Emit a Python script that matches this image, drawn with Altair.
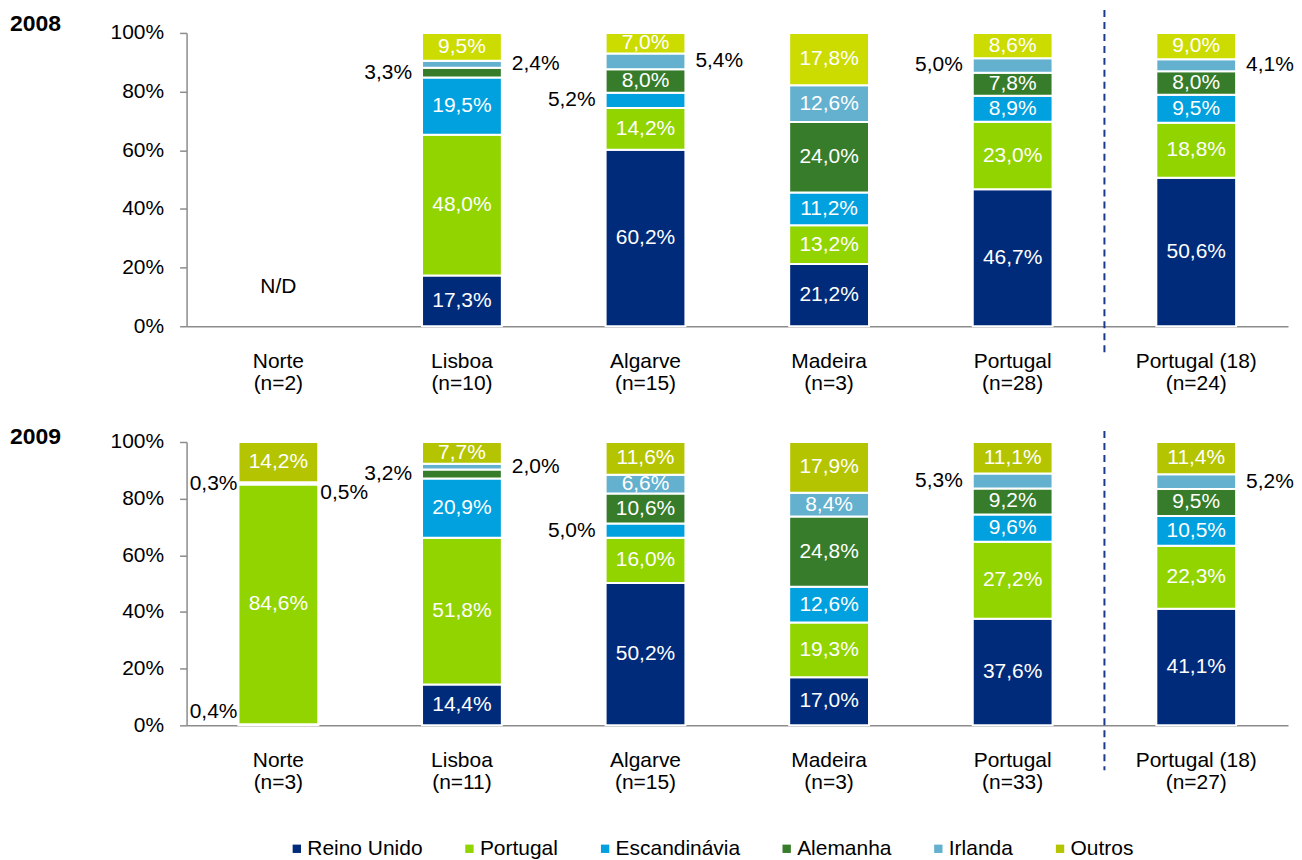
import altair as alt
import pandas as pd

FONT = "Liberation Sans"
FS = 21

regioes = ["Norte", "Lisboa", "Algarve", "Madeira", "Portugal", "Portugal (18)"]
n_2008 = [2, 10, 15, 3, 28, 24]
n_2009 = [3, 11, 15, 3, 33, 27]
series = ["Reino Unido", "Portugal", "Escandinávia", "Alemanha", "Irlanda", "Outros"]

# 2008 (None = N/D)
ru_2008 = [None, 17.3, 60.2, 21.2, 46.7, 50.6]
pt_2008 = [None, 48.0, 14.2, 13.2, 23.0, 18.8]
es_2008 = [None, 19.5, 5.2, 11.2, 8.9, 9.5]
al_2008 = [None, 3.3, 8.0, 24.0, 7.8, 8.0]
ir_2008 = [None, 2.4, 5.4, 12.6, 5.0, 4.1]
ou_2008 = [None, 9.5, 7.0, 17.8, 8.6, 9.0]

# 2009
ru_2009 = [0.4, 14.4, 50.2, 17.0, 37.6, 41.1]
pt_2009 = [84.6, 51.8, 16.0, 19.3, 27.2, 22.3]
es_2009 = [0.0, 20.9, 5.0, 12.6, 9.6, 10.5]
al_2009 = [0.3, 3.2, 10.6, 24.8, 9.2, 9.5]
ir_2009 = [0.5, 2.0, 6.6, 8.4, 5.3, 5.2]
ou_2009 = [14.2, 7.7, 11.6, 17.9, 11.1, 11.4]

# labels drawn outside the bar: (region, series) -> (side, nudge in % units)
fora_2008 = {
    ("Lisboa", "Alemanha"): ("left", 0), ("Lisboa", "Irlanda"): ("right", 0),
    ("Algarve", "Escandinávia"): ("left", 0), ("Algarve", "Irlanda"): ("right", 0),
    ("Portugal", "Irlanda"): ("left", 0), ("Portugal (18)", "Irlanda"): ("right", 0),
}
fora_2009 = {
    ("Norte", "Reino Unido"): ("leftc", 4.5), ("Norte", "Alemanha"): ("leftc", 0),
    ("Norte", "Irlanda"): ("rightc", -3.5),
    ("Lisboa", "Alemanha"): ("left", 0), ("Lisboa", "Irlanda"): ("right", 0),
    ("Algarve", "Escandinávia"): ("left", 0),
    ("Portugal", "Irlanda"): ("left", 0), ("Portugal (18)", "Irlanda"): ("right", 0),
}

cor_dom = series + ["Outros 2008"]
cor_rng = ["#002B7A", "#92D400", "#00A1DE", "#367C2B", "#63B1CF", "#B5C400", "#CCDC00"]

BAND = 184


def build_df(cols, ns, fora, ano):
    cats = [f"{r}|(n={n})" for r, n in zip(regioes, ns)]
    rows = []
    for i, (reg, cat) in enumerate(zip(regioes, cats)):
        for k, (s, col) in enumerate(zip(series, cols)):
            v = col[i]
            if v is None or v == 0:
                continue
            side, nudge = fora.get((reg, s), ("in", 0))
            cor = s
            if s == "Outros" and ano == "2008":
                cor = "Outros 2008"
            rows.append(dict(cat=cat, serie=s, ordem=k, valor=v, cor=cor,
                             pos=side, nudge=nudge,
                             txt=f"{v:.1f}".replace(".", ",") + "%"))
    return cats, pd.DataFrame(rows)


def panel(ano, cols, ns, fora, h, yl, r1, r2, nd=False):
    cats, df = build_df(cols, ns, fora, ano)
    xscale = alt.Scale(domain=cats, paddingInner=0, paddingOuter=0)
    xaxis = alt.Axis(title=None, labelExpr="split(datum.label, '|')", labelAngle=0,
                     ticks=False, domainColor="#8c8c8c", domainWidth=1.5,
                     labelPadding=24, labelFontSize=FS, labelLineHeight=22,
                     labelColor="black", labelFont=FONT, labelBaseline="top")
    yscale = alt.Scale(domain=[0, 100], nice=False)
    yaxis = alt.Axis(title=None, values=[0, 20, 40, 60, 80, 100], grid=False,
                     labelExpr="datum.value + '%'", domainColor="#8c8c8c",
                     tickColor="#8c8c8c", tickSize=7, domainWidth=1.5, tickWidth=1.5,
                     labelPadding=16, labelFontSize=FS, labelColor="black", labelFont=FONT)
    x = alt.X("cat:N", scale=xscale, axis=xaxis, sort=cats)
    color = alt.Color("cor:N", scale=alt.Scale(domain=cor_dom, range=cor_rng),
                      legend=alt.Legend(orient="none", legendX=100, legendY=807,
                                        direction="horizontal", title=None,
                                        symbolType="square", symbolSize=70,
                                        symbolStrokeWidth=0, labelFontSize=FS,
                                        labelFont=FONT, labelColor="black",
                                        columnPadding=36, labelOffset=0,
                                        values=series))
    base = alt.Chart(df).transform_stack(
        stack="valor", groupby=["cat"], sort=[alt.SortField("ordem")], as_=["v0", "v1"]
    )
    bars = base.mark_bar(size=80, stroke="white", strokeWidth=2).encode(
        x=x, y=alt.Y("v0:Q", scale=yscale, axis=yaxis), y2="v1:Q", color=color
    )
    lab = base.transform_calculate(ym="(datum.v0 + datum.v1) / 2 + datum.nudge")
    ylab = alt.Y("ym:Q", scale=yscale, axis=yaxis)

    def txt(pos, cor, align, dx):
        kw = dict(color=cor, fontSize=FS, font=FONT, baseline="middle", align=align)
        if dx:
            kw["dx"] = dx
        return lab.transform_filter(f"datum.pos == '{pos}'").mark_text(**kw).encode(
            x=x, y=ylab, text="txt:N")

    t_in = txt("in", "white", "center", 0)
    t_l = txt("left", "black", "right", -50)
    t_r = txt("right", "black", "left", 50)
    t_lc = txt("leftc", "black", "right", -41)
    t_rc = txt("rightc", "black", "left", 42)
    ano_t = alt.Chart(pd.DataFrame({"t": [ano]})).mark_text(
        align="left", baseline="middle", fontWeight="bold", fontSize=23, font=FONT,
        color="black"
    ).encode(x=alt.value(-177), y=alt.value(yl), text="t:N")
    regra = alt.Chart(pd.DataFrame({"cat": [cats[5]]})).mark_rule(
        strokeDash=[7, 5], color="#1C3A8C", strokeWidth=2
    ).encode(x=alt.X("cat:N", bandPosition=0, scale=xscale, axis=xaxis),
             y=alt.value(r1), y2=alt.value(r2))
    layers = [bars, t_in, t_l, t_r, t_lc, t_rc, ano_t, regra]
    if nd:
        nd_t = alt.Chart(pd.DataFrame({"cat": [cats[0]], "yv": [13.5], "t": ["N/D"]})).mark_text(
            fontSize=FS, font=FONT, color="black", baseline="middle"
        ).encode(x=alt.X("cat:N", scale=xscale, axis=xaxis),
                 y=alt.Y("yv:Q", scale=yscale, axis=yaxis), text="t:N")
        layers.append(nd_t)
    return alt.layer(*layers).properties(width=len(cats) * BAND, height=h)


p1 = panel("2008", [ru_2008, pt_2008, es_2008, al_2008, ir_2008, ou_2008], n_2008,
           fora_2008, 294, -9, -23, 324, nd=True)
p2 = panel("2009", [ru_2009, pt_2009, es_2009, al_2009, ir_2009, ou_2009], n_2009,
           fora_2009, 284, -5, -11, 329)

chart = alt.vconcat(p1, p2, spacing=116, bounds="flush").resolve_scale(
    x="independent", y="independent", color="shared"
).properties(padding={"left": 2, "top": 0, "right": 0, "bottom": 0}).configure_view(
    stroke=None
)

chart.save("out.html", embed_options={"renderer": "svg", "actions": False})
